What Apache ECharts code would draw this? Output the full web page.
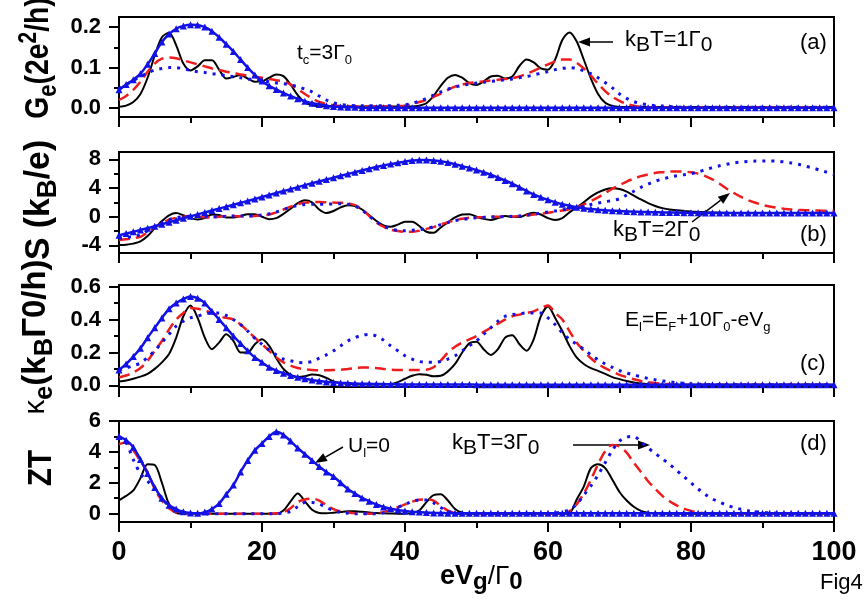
<!DOCTYPE html>
<html><head><meta charset="utf-8">
<script src="https://cdn.jsdelivr.net/npm/echarts@6/dist/echarts.min.js"></script>
<style>html,body{margin:0;padding:0;background:#fff}#c{width:868px;height:600px}</style>
</head><body><div id="c"></div>
<script>
// ---- data (x = eVg/Γ0) ----
const xs = [0,1,2,3,4,5,6,7,8,9,10,11,12,13,14,15,16,17,18,19,20,21,22,23,24,25,26,27,28,29,30,31,32,33,34,35,36,37,38,39,40,41,42,43,44,45,46,47,48,49,50,51,52,53,54,55,56,57,58,59,60,61,62,63,64,65,66,67,68,69,70,71,72,73,74,75,76,77,78,79,80,81,82,83,84,85,86,87,88,89,90,91,92,93,94,95,96,97,98,99,100];

// panel (a) Ge
const geBlack = [0.003,0.006,0.015,0.035,0.075,0.13,0.175,0.186,0.155,0.11,
0.093,0.103,0.118,0.118,0.095,0.073,0.077,0.082,0.073,0.065,
0.066,0.075,0.083,0.079,0.058,0.032,0.014,0.007,0.005,0.004,
0.004,0.004,0.004,0.004,0.004,0.004,0.004,0.004,0.004,0.004,
0.004,0.004,0.006,0.012,0.03,0.055,0.075,0.082,0.075,0.062,
0.057,0.066,0.078,0.08,0.073,0.078,0.104,0.12,0.113,0.098,
0.095,0.12,0.168,0.187,0.165,0.12,0.073,0.035,0.013,0.005,
0.003,0.003,0.003,0.003,0.003,0.003,0.003,0.003,0.003,0.003,
0.003,0.003,0.003,0.003,0.003,0.003,0.003,0.003,0.003,0.003,
0.003,0.003,0.003,0.003,0.003,0.003,0.003,0.003,0.003,0.003,0.003];
const geRed = [0.02,0.03,0.045,0.065,0.09,0.11,0.122,0.125,0.123,0.118,
0.113,0.108,0.103,0.098,0.094,0.09,0.087,0.083,0.08,0.077,
0.075,0.072,0.069,0.066,0.058,0.047,0.035,0.024,0.015,0.01,
0.007,0.005,0.004,0.004,0.004,0.004,0.004,0.004,0.004,0.005,
0.006,0.01,0.015,0.02,0.028,0.036,0.045,0.053,0.058,0.062,
0.064,0.066,0.068,0.07,0.072,0.074,0.078,0.085,0.092,0.1,
0.108,0.115,0.12,0.12,0.112,0.098,0.08,0.06,0.042,0.028,
0.018,0.01,0.006,0.003,0.002,0.002,0.002,0.002,0.002,0.002,
0.002,0.002,0.002,0.002,0.002,0.002,0.002,0.002,0.002,0.002,
0.002,0.002,0.002,0.002,0.002,0.002,0.002,0.002,0.002,0.002,0.002];
const geDot = [0.048,0.058,0.068,0.078,0.087,0.094,0.098,0.1,0.1,0.097,
0.093,0.09,0.088,0.085,0.083,0.08,0.078,0.075,0.072,0.07,
0.068,0.065,0.062,0.06,0.057,0.053,0.047,0.04,0.03,0.02,
0.013,0.009,0.007,0.006,0.006,0.006,0.006,0.006,0.006,0.007,
0.008,0.012,0.017,0.024,0.032,0.04,0.047,0.052,0.056,0.059,
0.062,0.064,0.066,0.068,0.07,0.072,0.075,0.078,0.082,0.086,
0.09,0.095,0.098,0.1,0.098,0.092,0.085,0.075,0.063,0.05,
0.035,0.024,0.016,0.011,0.008,0.006,0.005,0.004,0.003,0.002,
0.002,0.002,0.002,0.002,0.002,0.002,0.002,0.002,0.002,0.002,
0.002,0.002,0.002,0.002,0.002,0.002,0.002,0.002,0.002,0.002,0.002];
const geTri = [0.045,0.058,0.07,0.085,0.108,0.135,0.163,0.183,0.196,0.203,
0.206,0.205,0.2,0.19,0.175,0.158,0.14,0.12,0.1,0.082,
0.067,0.055,0.046,0.037,0.03,0.023,0.017,0.012,0.009,0.006,
0.004,0.003,0.002,0.002,0.001,0.001,0.001,0.001,0.001,0.001,
0.001,0.001,0.001,0.001,0.001,0.001,0.001,0.001,0.001,0.001,
0.001,0.001,0.001,0.001,0.001,0.001,0.001,0.001,0.001,0.001,
0.001,0.001,0.001,0.001,0.001,0.001,0.001,0.001,0.001,0.001,
0.001,0.001,0.001,0.001,0.001,0.001,0.001,0.001,0.001,0.001,
0.001,0.001,0.001,0.001,0.001,0.001,0.001,0.001,0.001,0.001,
0.001,0.001,0.001,0.001,0.001,0.001,0.001,0.001,0.001,0.001,0.001];

// panel (b) S
const sBlack = [-3.95,-3.9,-3.75,-3.45,-2.7,-1.6,-0.6,0.2,0.5,0.2,
-0.2,-0.4,-0.2,0.3,0.25,-0.1,-0.1,0.1,0.35,0.35,
0.0,-0.35,-0.2,0.4,1.1,1.9,2.3,2.0,1.0,0.5,
0.8,1.3,1.6,1.5,1.0,0.2,-0.6,-1.2,-1.4,-1.1,
-0.7,-0.7,-1.3,-2.1,-2.25,-1.5,-0.8,-0.1,0.3,0.35,
0.0,-0.3,-0.45,-0.2,0.1,0.0,-0.05,0.3,0.55,0.3,
-0.2,-0.45,-0.2,0.6,1.3,2.0,2.8,3.4,3.8,3.95,
3.85,3.5,2.95,2.4,1.9,1.5,1.2,1.0,0.9,0.8,
0.72,0.66,0.62,0.58,0.56,0.54,0.52,0.51,0.5,0.5,
0.5,0.5,0.5,0.5,0.5,0.5,0.5,0.5,0.5,0.5,0.5];
const sRed = [-3.25,-3.15,-3.0,-2.8,-2.2,-1.5,-0.9,-0.4,-0.15,0.0,
0.1,0.05,-0.1,-0.1,0.0,0.1,0.1,0.05,0.05,0.1,
0.2,0.3,0.6,1.0,1.4,1.75,1.95,2.05,2.05,2.0,
1.97,1.95,1.9,1.6,1.0,0.1,-0.8,-1.4,-1.8,-2.0,
-2.1,-2.1,-1.95,-1.7,-1.45,-1.1,-0.75,-0.5,-0.3,-0.15,
-0.1,-0.05,0.0,0.0,0.0,0.0,0.1,0.2,0.3,0.42,
0.55,0.7,0.85,1.05,1.3,1.7,2.2,2.7,3.3,3.9,
4.4,4.9,5.3,5.65,5.9,6.1,6.2,6.28,6.3,6.28,
6.2,6.0,5.65,5.2,4.6,3.9,3.3,2.75,2.3,1.95,
1.65,1.42,1.25,1.12,1.02,0.95,0.9,0.87,0.85,0.84,0.83];
const sDot = [-3.0,-2.9,-2.75,-2.5,-2.0,-1.4,-0.85,-0.4,-0.15,0.0,
0.05,0.05,0.0,-0.05,0.0,0.05,0.1,0.1,0.1,0.15,
0.25,0.4,0.65,1.0,1.3,1.55,1.7,1.75,1.75,1.75,
1.78,1.8,1.75,1.5,0.9,0.1,-0.7,-1.3,-1.7,-1.9,
-1.95,-1.9,-1.8,-1.65,-1.4,-1.1,-0.8,-0.55,-0.4,-0.25,
-0.15,-0.1,-0.05,0.0,0.0,0.05,0.1,0.2,0.35,0.5,
0.65,0.8,0.95,1.1,1.25,1.45,1.7,1.9,2.1,2.25,
2.5,3.0,3.55,4.1,4.55,4.95,5.25,5.5,5.7,5.85,
6.0,6.25,6.55,6.85,7.1,7.3,7.5,7.62,7.7,7.75,
7.78,7.78,7.75,7.65,7.5,7.3,7.05,6.8,6.5,6.2,5.9];
const sTri = [-2.6,-2.35,-2.1,-1.85,-1.6,-1.33,-1.05,-0.78,-0.5,-0.22,
0.05,0.32,0.6,0.87,1.13,1.4,1.67,1.93,2.2,2.47,
2.75,3.02,3.3,3.57,3.85,4.12,4.4,4.67,4.93,5.18,
5.43,5.7,5.95,6.2,6.45,6.7,6.93,7.15,7.35,7.52,
7.68,7.82,7.9,7.9,7.85,7.72,7.55,7.32,7.05,6.8,
6.5,6.2,5.85,5.45,5.05,4.6,4.1,3.6,3.1,2.7,
2.35,2.02,1.75,1.52,1.33,1.18,1.06,0.97,0.9,0.84,
0.79,0.74,0.7,0.67,0.64,0.62,0.6,0.58,0.57,0.56,
0.55,0.54,0.53,0.53,0.52,0.52,0.51,0.51,0.51,0.5,
0.5,0.5,0.5,0.5,0.5,0.5,0.5,0.5,0.5,0.5,0.5];

// panel (c) kappa_e
const keBlack = [0.024,0.03,0.04,0.053,0.07,0.1,0.14,0.19,0.29,0.42,
0.485,0.41,0.29,0.22,0.26,0.31,0.27,0.2,0.2,0.25,
0.28,0.24,0.165,0.1,0.064,0.05,0.055,0.066,0.062,0.045,
0.024,0.014,0.008,0.006,0.005,0.005,0.005,0.006,0.008,0.02,
0.04,0.058,0.067,0.064,0.055,0.058,0.085,0.13,0.2,0.255,
0.265,0.22,0.185,0.22,0.29,0.305,0.25,0.21,0.28,0.42,
0.48,0.41,0.33,0.24,0.17,0.13,0.105,0.088,0.07,0.05,
0.038,0.027,0.017,0.011,0.007,0.005,0.004,0.004,0.004,0.003,
0.003,0.003,0.003,0.003,0.003,0.003,0.003,0.003,0.003,0.003,
0.003,0.003,0.003,0.003,0.003,0.003,0.003,0.003,0.003,0.003,0.003];
const keRed = [0.048,0.06,0.078,0.105,0.15,0.21,0.27,0.34,0.4,0.44,
0.47,0.465,0.455,0.44,0.42,0.41,0.4,0.37,0.33,0.29,
0.25,0.21,0.17,0.14,0.12,0.105,0.098,0.094,0.092,0.092,
0.093,0.095,0.1,0.105,0.108,0.108,0.105,0.1,0.096,0.094,
0.094,0.094,0.094,0.095,0.11,0.15,0.2,0.235,0.26,0.28,
0.3,0.325,0.35,0.375,0.4,0.42,0.43,0.44,0.45,0.47,
0.485,0.44,0.4,0.33,0.26,0.21,0.165,0.13,0.105,0.083,
0.064,0.05,0.037,0.027,0.019,0.014,0.01,0.007,0.005,0.004,
0.003,0.003,0.003,0.003,0.003,0.003,0.003,0.003,0.003,0.003,
0.003,0.003,0.003,0.003,0.003,0.003,0.003,0.003,0.003,0.003,0.003];
const keDot = [0.094,0.105,0.12,0.135,0.17,0.21,0.26,0.31,0.36,0.39,
0.41,0.42,0.435,0.44,0.44,0.425,0.4,0.37,0.33,0.285,
0.25,0.215,0.185,0.16,0.15,0.14,0.138,0.145,0.165,0.185,
0.21,0.24,0.27,0.29,0.305,0.31,0.3,0.275,0.24,0.21,
0.18,0.16,0.145,0.14,0.14,0.145,0.16,0.18,0.21,0.24,
0.27,0.31,0.35,0.39,0.42,0.43,0.435,0.44,0.44,0.44,
0.41,0.37,0.32,0.28,0.25,0.22,0.185,0.155,0.13,0.11,
0.09,0.075,0.064,0.052,0.042,0.034,0.027,0.021,0.016,0.012,
0.009,0.007,0.005,0.004,0.003,0.003,0.003,0.003,0.003,0.003,
0.003,0.003,0.003,0.003,0.003,0.003,0.003,0.003,0.003,0.003,0.003];
const keTri = [0.094,0.13,0.175,0.225,0.29,0.35,0.41,0.465,0.5,0.525,
0.54,0.53,0.5,0.45,0.4,0.35,0.3,0.255,0.21,0.17,
0.14,0.11,0.09,0.074,0.06,0.049,0.04,0.032,0.026,0.021,
0.018,0.015,0.013,0.011,0.01,0.009,0.008,0.007,0.006,0.006,
0.005,0.005,0.005,0.005,0.005,0.005,0.005,0.005,0.005,0.005,
0.004,0.004,0.004,0.004,0.004,0.004,0.004,0.004,0.004,0.004,
0.004,0.004,0.004,0.004,0.004,0.004,0.004,0.004,0.004,0.004,
0.004,0.004,0.004,0.004,0.004,0.004,0.004,0.004,0.004,0.004,
0.004,0.004,0.004,0.004,0.004,0.004,0.004,0.004,0.004,0.004,
0.004,0.004,0.004,0.004,0.004,0.004,0.004,0.004,0.004,0.004,0.004];

// panel (d) ZT
const ztBlack = [0.86,1.15,1.5,2.3,3.2,3.15,2.0,0.6,0.05,0,
0,0,0,0,0,0,0,0,0,0,
0,0,0,0.2,0.8,1.3,0.8,0.25,0.05,0.03,
0.06,0.1,0.15,0.15,0.12,0.08,0.04,0.02,0.01,0,
0,0.05,0.2,0.75,1.2,1.25,0.85,0.3,0.06,0,
0,0,0,0,0,0,0,0,0,0,
0,0,0,0.03,0.9,1.75,2.95,3.2,2.95,2.2,
1.4,0.85,0.45,0.18,0.06,0.02,0,0,0,0,
0,0,0,0,0,0,0,0,0,0,
0,0,0,0,0,0,0,0,0,0,0];
const ztRed = [4.5,4.6,4.1,3.4,2.7,1.6,0.85,0.35,0.08,0.02,
0,0,0,0,0,0,0,0,0,0,
0,0,0.02,0.1,0.35,0.75,0.92,0.97,0.85,0.55,
0.3,0.15,0.08,0.03,0.01,0,0.03,0.1,0.25,0.42,
0.6,0.78,0.9,0.92,0.85,0.5,0.2,0.06,0.02,0,
0,0,0,0,0,0,0,0,0,0,
0,0,0,0.15,0.6,1.3,2.2,3.2,4.05,4.45,
4.35,3.95,3.3,2.7,2.1,1.6,1.15,0.8,0.54,0.33,
0.18,0.08,0.03,0,0,0,0,0,0,0,
0,0,0,0,0,0,0,0,0,0,0];
const ztDot = [5.0,4.6,3.5,2.6,2.1,1.65,1.0,0.5,0.2,0.06,
0,0,0,0,0,0,0,0,0,0,
0,0,0,0.05,0.15,0.45,0.72,0.72,0.62,0.4,
0.2,0.08,0.03,0,0,0,0,0.05,0.2,0.4,
0.6,0.8,0.88,0.88,0.7,0.4,0.15,0.04,0,0,
0,0,0,0,0,0,0,0,0,0,
0,0.05,0.12,0.25,0.6,1.2,1.8,2.5,3.3,4.1,
4.7,4.95,5.0,4.65,4.25,3.9,3.55,3.2,2.8,2.4,
2.0,1.6,1.25,0.95,0.75,0.55,0.4,0.28,0.19,0.13,
0.08,0.05,0.03,0.01,0,0,0,0,0,0,0];
const ztTri = [5.0,4.75,4.3,3.5,2.6,1.7,1.0,0.55,0.3,0.12,
0.04,0.02,0.1,0.3,0.65,1.25,1.85,2.7,3.45,4.1,
4.55,5.0,5.3,5.1,4.7,4.25,3.85,3.45,3.05,2.7,
2.4,2.0,1.6,1.3,1.02,0.8,0.6,0.43,0.32,0.24,
0.18,0.13,0.1,0.07,0.05,0.04,0.03,0.02,0.02,0.02,
0.02,0.02,0.02,0.02,0.02,0.02,0.02,0.02,0.02,0.02,
0.02,0.02,0.02,0.02,0.02,0.02,0.02,0.02,0.02,0.02,
0.02,0.02,0.02,0.02,0.02,0.02,0.02,0.02,0.02,0.02,
0.02,0.02,0.02,0.02,0.02,0.02,0.02,0.02,0.02,0.02,
0.02,0.02,0.02,0.02,0.02,0.02,0.02,0.02,0.02,0.02,0.02];

// tick labels
const xTicks = [0,20,40,60,80,100];
const yMajorA = [0,0.1,0.2],  yMinorA = [0.05,0.15];
const yMajorB = [-4,0,4,8],   yMinorB = [-2,2,6];
const yMajorC = [0,0.2,0.4,0.6], yMinorC = [0.1,0.3,0.5];
const yMajorD = [0,2,4,6],    yMinorD = [1,3,5];

// ---- layout ----
const F = "'Liberation Sans', Arial, Helvetica, sans-serif";
const panels = [
  {top:17, height:100, min:-0.022, max:0.225, major:yMajorA, minor:yMinorA, fmt:v=>v.toFixed(1), d:[geBlack,geRed,geDot,geTri]},
  {top:152, height:101, min:-5.06, max:9.02, major:yMajorB, minor:yMinorB, fmt:v=>String(v), d:[sBlack,sRed,sDot,sTri]},
  {top:285, height:102, min:-0.01, max:0.61, major:yMajorC, minor:yMinorC, fmt:v=>v.toFixed(1), d:[keBlack,keRed,keDot,keTri]},
  {top:421, height:101, min:-0.54, max:6.0, major:yMajorD, minor:yMinorD, fmt:v=>String(v), d:[ztBlack,ztRed,ztDot,ztTri]}
];
const mk = arr => xs.map((x,i)=>[x,arr[i]]);
const BLUE = '#1212e6', RED = '#ee1c1c';

const grid=[], xAxis=[], yAxis=[], series=[];
panels.forEach((p,i)=>{
  grid.push({left:119,right:34,top:p.top,height:p.height,show:true,borderColor:'#000',borderWidth:2,backgroundColor:'rgba(0,0,0,0)'});
  xAxis.push({type:'value',gridIndex:i,min:0,max:100,interval:20,
    axisLine:{show:true,onZero:false,lineStyle:{color:'#000',width:2}},
    axisTick:{show:true,length:10,lineStyle:{color:'#000',width:2}},
    minorTick:{show:true,splitNumber:2,length:6,lineStyle:{color:'#000',width:2}},
    splitLine:{show:false},minorSplitLine:{show:false},
    axisLabel:{show:i===3,fontSize:27,fontWeight:'bold',fontFamily:F,color:'#000',margin:17,
      customValues:xTicks}});
  yAxis.push({type:'value',gridIndex:i,min:p.min,max:p.max,position:'left',
    axisLine:{show:true,onZero:false,lineStyle:{color:'#000',width:2}},
    axisTick:{show:true,length:10,customValues:p.major,lineStyle:{color:'#000',width:2}},
    axisLabel:{show:true,customValues:p.major,formatter:p.fmt,fontSize:22,fontWeight:'bold',fontFamily:F,color:'#000',margin:18},
    splitLine:{show:false}});
  yAxis.push({type:'value',gridIndex:i,min:p.min,max:p.max,position:'left',
    axisLine:{show:false},
    axisTick:{show:true,length:5,customValues:p.minor,lineStyle:{color:'#000',width:2}},
    axisLabel:{show:false},splitLine:{show:false}});
  const yi = 2*i;
  series.push({type:'line',xAxisIndex:i,yAxisIndex:yi,data:mk(p.d[0]),showSymbol:false,smooth:0.3,silent:true,
    lineStyle:{color:'#000',width:2}});
  series.push({type:'line',xAxisIndex:i,yAxisIndex:yi,data:mk(p.d[1]),showSymbol:false,smooth:0.3,silent:true,
    lineStyle:{color:RED,width:2.5,type:[11,6]}});
  series.push({type:'line',xAxisIndex:i,yAxisIndex:yi,data:mk(p.d[2]),showSymbol:false,smooth:0.3,silent:true,
    lineStyle:{color:BLUE,width:3,type:[3,6]}});
  series.push({type:'line',xAxisIndex:i,yAxisIndex:yi,data:mk(p.d[3]),symbol:'triangle',symbolSize:7,showSymbol:true,showAllSymbol:true,smooth:0.3,silent:true,
    itemStyle:{color:BLUE},lineStyle:{color:BLUE,width:2.5}});
});

// ---- texts ----
function T(x,y,text,rich,extra){
  return Object.assign({type:'text',x:x,y:y,silent:true,
    style:{text:text,rich:rich,fill:'#000',align:'left',verticalAlign:'middle',textAlign:'left',textVerticalAlign:'middle',font:'20px '+F}},extra||{});
}
const annK = {n:{fontSize:22,fontFamily:F,lineHeight:32,verticalAlign:'middle'},
              b:{fontSize:21,fontFamily:F,lineHeight:12,verticalAlign:'bottom'}};
const annS = {n:{fontSize:21,fontFamily:F,lineHeight:28,verticalAlign:'middle'},
              s:{fontSize:13,fontFamily:F,lineHeight:8,verticalAlign:'bottom'}};
const par = {n:{fontSize:22,fontFamily:F,lineHeight:26,verticalAlign:'middle'}};
const ttl = {n:{fontSize:27,fontWeight:'bold',fontFamily:F,lineHeight:36,verticalAlign:'middle'},
             s:{fontSize:21,fontWeight:'bold',fontFamily:F,lineHeight:16,verticalAlign:'bottom'},
             p:{fontSize:20,fontWeight:'bold',fontFamily:F,lineHeight:14,verticalAlign:'top'},
             k:{fontSize:24,fontFamily:F,lineHeight:36,verticalAlign:'middle'}};
const xt = {n:{fontSize:27,fontWeight:'bold',fontFamily:F,lineHeight:34,verticalAlign:'middle'},
            m:{fontSize:26,fontFamily:F,lineHeight:34,verticalAlign:'middle'},
            s:{fontSize:24,fontWeight:'bold',fontFamily:F,lineHeight:14,verticalAlign:'bottom'}};
const R90 = Math.PI/2;
function rot(x,y,text,sx,sy){
  return {type:'text',x:x,y:y,rotation:R90,scaleX:sx,scaleY:sy,silent:true,
    style:{text:text,rich:ttl,fill:'#000',align:'center',verticalAlign:'middle',textAlign:'center',textVerticalAlign:'middle',font:'bold 27px '+F}};
}
function arrow(x1,y1,x2,y2){
  const dx=x2-x1, dy=y2-y1, L=Math.hypot(dx,dy), ux=dx/L, uy=dy/L;
  const bx=x2-12*ux, by=y2-12*uy, px=-uy*4.5, py=ux*4.5;
  return [
    {type:'line',silent:true,shape:{x1:x1,y1:y1,x2:bx,y2:by},style:{stroke:'#000',lineWidth:1.5}},
    {type:'polygon',silent:true,shape:{points:[[x2,y2],[bx+px,by+py],[bx-px,by-py]]},style:{fill:'#000'}}
  ];
}
const graphic = [
  rot(39,58,'{n|G}{s|e}{n|(2e}{p|2}{n|/h)}',1.05,1.25),
  rot(39,200,'{n|S (k}{s|B}{n|/e)}',1.25,1.3),
  rot(36,337,'{k|κ}{s|e}{n|(k}{s|B}{n|Γ0/h)}',1.22,1.2),
  rot(42,468,'{n|ZT}',1.1,1.2),
  T(297,53,'{n|t}{s|c}{n|=3Γ}{s|0}',annS),
  T(625,40,'{n|k}{b|B}{n|T=1Γ}{b|0}',annK),
  T(800,43,'{n|(a)}',par),
  T(613,230,'{n|k}{b|B}{n|T=2Γ}{b|0}',annK),
  T(800,235,'{n|(b)}',par),
  T(625,320,'{n|E}{s|l}{n|=E}{s|F}{n|+10Γ}{s|0}{n|-eV}{s|g}',annS),
  T(800,364,'{n|(c)}',par),
  T(348,446,'{n|U}{s|l}{n|=0}',{n:{fontSize:21,fontFamily:F,lineHeight:28,verticalAlign:'middle'},s:{fontSize:13,fontFamily:F,lineHeight:9,verticalAlign:'bottom'}}),
  T(452,443,'{n|k}{b|B}{n|T=3Γ}{b|0}',annK),
  T(800,444,'{n|(d)}',par),
  T(440,577,'{n|eV}{s|g}{m|/Γ}{s|0}',xt),
  T(820,583,'{n|Fig4}',par)
].concat(arrow(613,42,578,42), arrow(692,222,730,193), arrow(343,447,315,463), arrow(573,445,650,445));

const chart = echarts.init(document.getElementById('c'),null,{renderer:'canvas'});
chart.setOption({animation:false,backgroundColor:'#fff',grid,xAxis,yAxis,series,graphic});
</script></body></html>
